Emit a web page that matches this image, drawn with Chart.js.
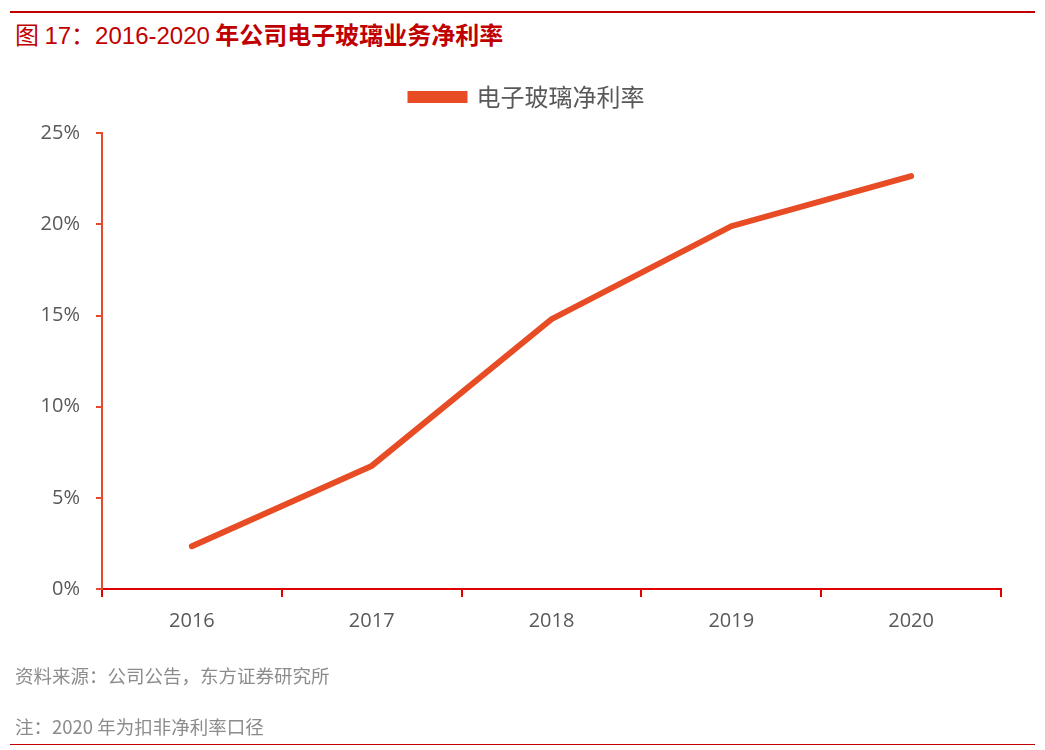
<!DOCTYPE html>
<html>
<head>
<meta charset="utf-8">
<script src="https://cdn.jsdelivr.net/npm/chart.js@4.4.0/dist/chart.umd.min.js"></script>
<style>
  html, body { margin: 0; padding: 0; background: #fff; }
  #wrap { position: relative; width: 1045px; height: 750px; overflow: hidden; }
  #chart { position: absolute; left: 0; top: 0; }
  .rule { position: absolute; left: 10px; width: 1025px; background: #c00000; }
  .txt { position: absolute; left: 15px; font-family: "Noto Sans CJK SC", "Noto Sans", sans-serif; white-space: nowrap; }
  #title { top: 16px; font-size: 24px; color: #c00000; }
  #title b { font-weight: bold; }
  #title .num { font-family: "Liberation Sans", Arial, sans-serif; }
  #source { top: 662px; font-size: 18.5px; color: #8c8c8c; }
  #note { top: 713px; font-size: 18.5px; color: #8c8c8c; }
</style>
</head>
<body>
<div id="wrap">
  <div class="rule" style="top:11px;height:2px;"></div>
  <div class="txt" id="title">图 <span class="num">17</span>：<span class="num">2016-2020</span> <b>年公司电子玻璃业务净利率</b></div>
  <canvas id="chart" width="1045" height="750"></canvas>
  <div class="txt" id="source">资料来源：公司公告，东方证券研究所</div>
  <div class="txt" id="note">注：2020 年为扣非净利率口径</div>
  <div class="rule" style="top:744px;height:1px;"></div>
</div>
<script>
const years = ['2016', '2017', '2018', '2019', '2020'];
const netMargin = [2.35, 6.75, 14.8, 19.9, 22.65];
const yTicks = [0, 5, 10, 15, 20, 25];

const tickFont = { family: '"Open Sans", "Noto Sans", sans-serif', size: 20 };

// nudge the legend so it sits a bit right of centre, as in the source
const legendShift = {
    id: 'legendShift',
    afterLayout(chart) {
        const lg = chart.legend;
        if (lg) { lg.left += 27; lg.right += 27; }
    }
};

const ctx = document.getElementById('chart').getContext('2d');
new Chart(ctx, {
    type: 'line',
    data: {
        labels: years,
        datasets: [{
            label: '电子玻璃净利率',
            data: netMargin,
            borderColor: '#e84c25',
            backgroundColor: '#e84c25',
            borderWidth: 6,
            borderCapStyle: 'round',
            pointRadius: 0,
            tension: 0,
        }]
    },
    options: {
        responsive: false,
        animation: false,
        layout: { padding: { left: 0, top: 46, right: 44, bottom: 111 } },
        plugins: {
            tooltip: { enabled: false },
            legend: {
                position: 'top',
                labels: {
                    boxWidth: 54,
                    boxHeight: 6,
                    padding: 39,
                    color: '#595959',
                    font: { family: '"Noto Sans CJK SC", sans-serif', size: 24 },
                }
            },
            // empty subtitle used as a gap between legend and plot
            subtitle: {
                display: true,
                text: '',
                position: 'top',
                weight: 500,
                font: { size: 1 },
                padding: { top: 0, bottom: 13 },
            }
        },
        scales: {
            x: {
                offset: true,
                afterFit: (s) => { s.height = 50; },
                grid: {
                    offset: true,
                    drawOnChartArea: false,
                    tickLength: 8,
                    color: '#e00000',
                    lineWidth: 2,
                },
                border: { color: '#e00000', width: 2 },
                ticks: { color: '#595959', font: tickFont, padding: 12 },
            },
            y: {
                min: 0,
                max: 25,
                afterFit: (s) => { s.width = 102; },
                afterBuildTicks: (s) => { s.ticks = yTicks.map(v => ({ value: v })); },
                grid: {
                    drawOnChartArea: false,
                    tickLength: 6,
                    color: '#e64a2b',
                    lineWidth: 2,
                },
                border: { color: '#e64a2b', width: 2 },
                ticks: {
                    color: '#595959',
                    font: tickFont,
                    padding: 16,
                    callback: (v) => v + '%',
                },
            }
        }
    },
    plugins: [legendShift]
});
</script>
</body>
</html>
